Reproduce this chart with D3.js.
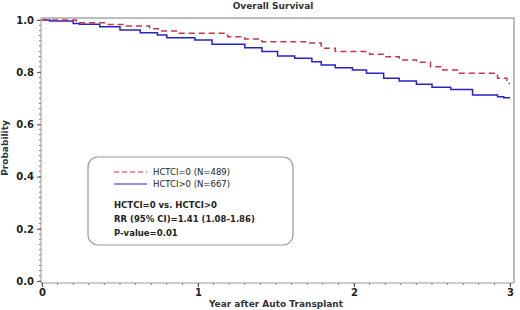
<!DOCTYPE html>
<html>
<head>
<meta charset="utf-8">
<script src="https://cdn.jsdelivr.net/npm/d3@7"></script>
<style>
  body { margin: 0; background: #fff; }
  svg text { font-family: 'DejaVu Sans', Verdana, sans-serif; }
</style>
</head>
<body>
<div id="chart"></div>
<script>
// Kaplan-Meier steps (years, survival)
const timeZero = [0, 0.22, 0.42, 0.54, 0.69, 0.76, 0.88, 1.19, 1.30, 1.41, 1.71, 1.79, 1.88, 2.10, 2.19, 2.29, 2.40, 2.49, 2.57, 2.66, 2.92, 2.98, 3.0]
const survZero = [1.0, 0.989, 0.983, 0.977, 0.966, 0.958, 0.949, 0.936, 0.927, 0.917, 0.912, 0.892, 0.879, 0.869, 0.859, 0.847, 0.838, 0.821, 0.808, 0.796, 0.777, 0.757, 0.757]

const timePos = [0, 0.05, 0.2, 0.24, 0.37, 0.5, 0.63, 0.74, 0.8, 0.98, 1.09, 1.30, 1.41, 1.51, 1.62, 1.73, 1.79, 1.88, 1.99, 2.08, 2.19, 2.29, 2.40, 2.50, 2.62, 2.76, 2.92, 2.96, 3.0]
const survPos = [1.0, 0.996, 0.987, 0.984, 0.974, 0.962, 0.951, 0.943, 0.932, 0.923, 0.907, 0.894, 0.879, 0.862, 0.853, 0.840, 0.828, 0.817, 0.808, 0.796, 0.777, 0.766, 0.754, 0.742, 0.734, 0.713, 0.706, 0.702, 0.702]

const xTicks = [0, 1, 2, 3]
const yTicks = [0, 0.2, 0.4, 0.6, 0.8, 1.0]
const legendLabels = ['HCTCI=0 (N=489)', 'HCTCI>0 (N=667)']
const statLines = ['HCTCI=0 vs. HCTCI>0', 'RR (95% CI)=1.41 (1.08-1.86)', 'P-value=0.01']

const width = 520, height = 310
const frame = { left: 41, right: 514, top: 18, bottom: 283 }

const svg = d3.select('#chart').append('svg')
  .attr('width', width)
  .attr('height', height)

const x = d3.scaleLinear().domain([0, 3]).range([42, 510])
const y = d3.scaleLinear().domain([0, 1]).range([281, 20])

// frame top/right
svg.append('path')
  .attr('d', `M${frame.left},${frame.top}H${frame.right}V${frame.bottom}`)
  .attr('fill', 'none')
  .attr('stroke', '#a8a8a8')
  .attr('stroke-width', 1.5)

// minor ticks
const yMinor = d3.range(0, 1.001, 0.02)
svg.append('g').selectAll('line').data(yMinor).join('line')
  .attr('x1', frame.left - 2).attr('x2', frame.left)
  .attr('y1', d => y(d)).attr('y2', d => y(d))
  .attr('stroke', '#777').attr('stroke-width', 1)
const xMinor = d3.range(0, 3.001, 0.1)
svg.append('g').selectAll('line').data(xMinor).join('line')
  .attr('y1', frame.bottom).attr('y2', frame.bottom + 2)
  .attr('x1', d => x(d)).attr('x2', d => x(d))
  .attr('stroke', '#777').attr('stroke-width', 1)

const yAxis = svg.append('g')
  .attr('transform', `translate(${frame.left},0)`)
  .call(d3.axisLeft(y).tickValues(yTicks).tickFormat(d3.format('.1f')).tickSize(4).tickPadding(3))
yAxis.select('.domain').attr('d', `M0,${frame.top}V${frame.bottom}`).attr('stroke', '#999')

const xAxis = svg.append('g')
  .attr('transform', `translate(0,${frame.bottom})`)
  .call(d3.axisBottom(x).tickValues(xTicks).tickFormat(d3.format('d')).tickSize(4).tickPadding(2))
xAxis.select('.domain').attr('d', `M${frame.left},0H${frame.right}`).attr('stroke', '#999')

svg.selectAll('.tick line').attr('stroke', '#555')
svg.selectAll('.tick text')
  .attr('font-size', 10)
  .attr('font-weight', 'bold')
  .attr('fill', '#222')

// curves
const line = d3.line().curve(d3.curveStepAfter)
  .x(d => x(d[0])).y(d => y(d[1]))

svg.append('path')
  .datum(timePos.map((t, i) => [t, survPos[i]]))
  .attr('d', line)
  .attr('fill', 'none')
  .attr('stroke', '#2424c8')
  .attr('stroke-width', 1.5)

svg.append('path')
  .datum(timeZero.map((t, i) => [t, survZero[i]]))
  .attr('d', line)
  .attr('fill', 'none')
  .attr('stroke', '#c8324a')
  .attr('stroke-width', 1.5)
  .attr('stroke-dasharray', '6,4')

// titles
svg.append('text')
  .attr('x', 273).attr('y', 9)
  .attr('text-anchor', 'middle')
  .attr('font-size', 9).attr('font-weight', 'bold').attr('fill', '#333')
  .text('Overall Survival')

svg.append('text')
  .attr('x', 276).attr('y', 307)
  .attr('text-anchor', 'middle')
  .attr('font-size', 9).attr('font-weight', 'bold').attr('fill', '#333')
  .text('Year after Auto Transplant')

svg.append('text')
  .attr('transform', 'translate(8,148) rotate(-90)')
  .attr('text-anchor', 'middle')
  .attr('font-size', 9).attr('font-weight', 'bold').attr('fill', '#333')
  .text('Probability')

// legend box
const lg = svg.append('g')
lg.append('rect')
  .attr('x', 88).attr('y', 157)
  .attr('width', 205).attr('height', 88)
  .attr('rx', 10)
  .attr('fill', '#fff')
  .attr('stroke', '#999')
  .attr('stroke-width', 1.2)

const legendColors = ['#c8324a', '#2424c8']
const legendDash = ['5,3', null]
legendLabels.forEach((lab, i) => {
  const ly = 172 + i * 12
  lg.append('line')
    .attr('x1', 114).attr('x2', 147)
    .attr('y1', ly).attr('y2', ly)
    .attr('stroke', legendColors[i])
    .attr('stroke-width', 1.2)
    .attr('stroke-dasharray', legendDash[i])
  lg.append('text')
    .attr('x', 153).attr('y', ly + 3)
    .attr('font-size', 8.5).attr('fill', '#222')
    .text(lab)
})

statLines.forEach((s, i) => {
  lg.append('text')
    .attr('x', 114).attr('y', 208 + i * 14)
    .attr('font-size', 8.5).attr('font-weight', 'bold').attr('fill', '#222')
    .text(s)
})
</script>
</body>
</html>
